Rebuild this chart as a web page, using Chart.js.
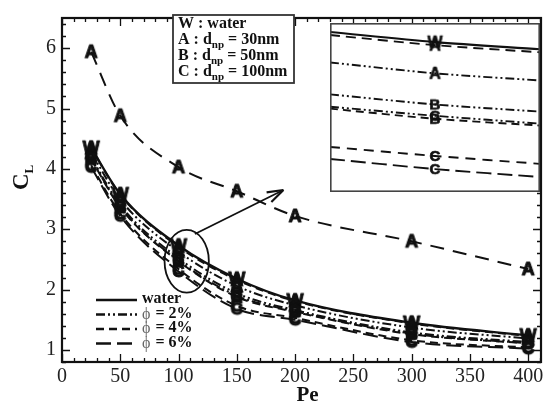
<!DOCTYPE html>
<html><head><meta charset="utf-8">
<script src="https://cdn.jsdelivr.net/npm/chart.js@4/dist/chart.umd.min.js"></script>
<style>
html,body{margin:0;padding:0;background:#fff;}
#wrap{position:relative;width:550px;height:405px;overflow:hidden;}
#main{position:absolute;left:0;top:0;}
#inset{position:absolute;left:330px;top:23px;}
</style></head><body>
<div id="wrap"><canvas id="main" width="550" height="405"></canvas><canvas id="inset" width="210" height="169"></canvas></div>
<script>
// ---- data ----
const pe = [25, 50, 100, 150, 200, 300, 400];
const xTickValues = [0, 50, 100, 150, 200, 250, 300, 350, 400];
const yTickValues = [1, 2, 3, 4, 5, 6];
const topA6 = [5.94, 4.88, 4.03, 3.63, 3.22, 2.80, 2.34];
const water = [4.35, 3.58, 2.73, 2.18, 1.82, 1.45, 1.24];
const A4 = [4.34, 3.57, 2.71, 2.16, 1.81, 1.44, 1.23];
const A2 = [4.27, 3.49, 2.63, 2.06, 1.74, 1.37, 1.19];
const B2 = [4.19, 3.40, 2.52, 1.94, 1.66, 1.29, 1.13];
const C2 = [4.17, 3.37, 2.48, 1.90, 1.64, 1.27, 1.11];
const B4 = [4.16, 3.36, 2.47, 1.88, 1.63, 1.26, 1.11];
const C4 = [4.06, 3.26, 2.34, 1.73, 1.53, 1.16, 1.04];
const C6 = [4.03, 3.22, 2.30, 1.68, 1.50, 1.13, 1.02];
// inset (zoomed view) values at left, middle, right
const insetX = [0, 1, 2];
const inW = [2.726, 2.699, 2.680];
const inA4 = [2.718, 2.691, 2.672];
const inA2 = [2.645, 2.616, 2.597];
const inB2 = [2.560, 2.533, 2.514];
const inC2 = [2.527, 2.503, 2.482];
const inB4 = [2.522, 2.495, 2.477];
const inC4 = [2.420, 2.396, 2.375];
const inC6 = [2.388, 2.361, 2.340];
const boxLegend = [['W', ' : water', null, ''], ['A', ' : d', 'np', ' = 30nm'], ['B', ' : d', 'np', ' = 50nm'], ['C', ' : d', 'np', ' = 100nm']];
const styleLegend = ['water', '= 2%', '= 4%', '= 6%'];

const INK = '#111';
const SERIF = '"Liberation Serif","Times New Roman",serif';
const DASH = { solid: [], ddot: [9, 3, 2, 3, 2, 3], short: [8, 5], long: [15, 6], longA: [14, 9] };

function letter(ch, px, sw) {
  const c = document.createElement('canvas');
  const s = Math.ceil(px * 1.3);
  c.width = s; c.height = s;
  const g = c.getContext('2d');
  g.fillStyle = INK; g.strokeStyle = INK; g.lineWidth = sw; g.lineJoin = 'round';
  g.font = 'bold ' + px + 'px "Liberation Sans", Arial, sans-serif';
  g.textAlign = 'center'; g.textBaseline = 'middle';
  g.fillText(ch, s / 2, s / 2 + 1);
  if (sw) g.strokeText(ch, s / 2, s / 2 + 1);
  return c;
}
const M = { W: letter('W', 18, 1), A: letter('A', 18, 1), B: letter('B', 17, 1), C: letter('C', 17, 1) };
const m = { W: letter('W', 16, 0.7), A: letter('A', 16, 0.7), B: letter('B', 15, 0.7), C: letter('C', 15, 0.7) };

function ds(data, dash, mark, w) {
  return {
    data: pe.map((x, i) => ({ x: x, y: data[i] })),
    borderColor: INK, backgroundColor: INK, borderWidth: w || 2,
    borderDash: dash, pointStyle: mark, pointRadius: 6,
    cubicInterpolationMode: 'monotone', fill: false
  };
}

const deco = {
  id: 'deco',
  afterDraw(chart) {
    const g = chart.ctx, a = chart.chartArea, xs = chart.scales.x, ys = chart.scales.y;
    g.save();
    g.strokeStyle = INK; g.fillStyle = INK;
    // ticks (inward)
    g.lineWidth = 1.3;
    g.beginPath();
    for (let v = 0; v <= 410; v += 10) {
      const px = Math.round(xs.getPixelForValue(v)) + 0.5;
      const len = v % 50 === 0 ? 8 : 4;
      g.moveTo(px, a.bottom); g.lineTo(px, a.bottom - len);
      g.moveTo(px, a.top); g.lineTo(px, a.top + len);
    }
    for (let k = 4; k <= 32; k++) {
      const v = k / 5;
      const py = Math.round(ys.getPixelForValue(v)) + 0.5;
      const len = k % 5 === 0 ? 8 : 4;
      g.moveTo(a.left, py); g.lineTo(a.left + len, py);
      g.moveTo(a.right, py); g.lineTo(a.right - len, py);
    }
    g.stroke();
    // frame
    g.lineWidth = 2.2;
    g.strokeRect(a.left, a.top, a.right - a.left, a.bottom - a.top);
    // axis titles
    g.font = 'bold 21px ' + SERIF;
    g.textAlign = 'center'; g.textBaseline = 'alphabetic';
    g.fillText('Pe', (a.left + a.right) / 2 + 6, 401);
    g.save();
    g.translate(28, 190); g.rotate(-Math.PI / 2);
    g.textAlign = 'left';
    g.font = 'bold 23px ' + SERIF;
    g.fillText('C', 0, 0);
    const cw = g.measureText('C').width;
    g.font = 'bold 13px ' + SERIF;
    g.fillText('L', cw, 5);
    g.restore();
    // ellipse + arrow
    const cx = xs.getPixelForValue(107), cy = ys.getPixelForValue(2.47);
    const rx = xs.getPixelForValue(126) - cx, ry = cy - ys.getPixelForValue(2.99);
    g.lineWidth = 1.8;
    g.beginPath(); g.ellipse(cx, cy, rx, ry, 0, 0, Math.PI * 2); g.stroke();
    const x0 = xs.getPixelForValue(114), y0 = ys.getPixelForValue(2.92);
    const x1 = xs.getPixelForValue(190), y1 = ys.getPixelForValue(3.65);
    g.beginPath(); g.moveTo(x0, y0); g.lineTo(x1, y1); g.stroke();
    const ang = Math.atan2(y1 - y0, x1 - x0);
    g.beginPath();
    g.moveTo(x1, y1); g.lineTo(x1 - 17 * Math.cos(ang - 0.32), y1 - 17 * Math.sin(ang - 0.32));
    g.moveTo(x1, y1); g.lineTo(x1 - 17 * Math.cos(ang + 0.32), y1 - 17 * Math.sin(ang + 0.32));
    g.lineWidth = 2.2; g.stroke();
    // box legend
    g.lineWidth = 1.8; g.strokeStyle = '#333';
    g.fillStyle = '#fff';
    g.fillRect(173, 15, 121, 68); g.strokeRect(173, 15, 121, 68);
    g.fillStyle = INK; g.textAlign = 'left';
    boxLegend.forEach((row, i) => {
      const by = 28 + i * 16;
      let x = 178;
      g.font = 'bold 16px ' + SERIF;
      g.fillText(row[0] + row[1], x, by); x += g.measureText(row[0] + row[1]).width;
      if (row[2]) {
        g.font = 'bold 11px ' + SERIF;
        g.fillText(row[2], x, by + 4); x += g.measureText(row[2]).width;
        g.font = 'bold 16px ' + SERIF;
        g.fillText(row[3], x, by);
      }
    });
    // style legend
    const dashes = [DASH.solid, DASH.ddot, DASH.short, DASH.long];
    styleLegend.forEach((t, i) => {
      const ly = 300 + i * 14.5;
      g.strokeStyle = INK; g.lineWidth = i === 0 ? 2.6 : 2.3;
      g.setLineDash(dashes[i]);
      g.beginPath(); g.moveTo(96, ly); g.lineTo(137, ly); g.stroke();
      g.setLineDash([]);
      let x = 142;
      if (i > 0) {
        g.font = '16px ' + SERIF; g.fillStyle = '#666';
        g.fillText('ϕ', x, ly + 4); x += g.measureText('ϕ').width + 1;
      }
      g.font = 'bold 16px ' + SERIF; g.fillStyle = INK;
      g.fillText(i > 0 ? ' ' + t : t, x, ly + 3);
    });
    g.restore();
  }
};

new Chart(document.getElementById('main'), {
  type: 'line',
  data: {
    datasets: [
      ds(topA6, DASH.longA, M.A, 2),
      ds(C6, DASH.long, M.C, 2),
      ds(C4, DASH.short, M.C, 2),
      ds(B4, DASH.short, M.B, 2),
      ds(C2, DASH.ddot, M.C, 2),
      ds(B2, DASH.ddot, M.B, 2),
      ds(A2, DASH.ddot, M.A, 2),
      ds(A4, DASH.short, M.A, 2),
      ds(water, DASH.solid, M.W, 2.4)
    ]
  },
  options: {
    responsive: false, animation: false, devicePixelRatio: 1,
    layout: { padding: { left: 0, right: 9, top: 9, bottom: 0 } },
    plugins: { legend: { display: false }, tooltip: { enabled: false } },
    scales: {
      x: {
        type: 'linear', min: 0, max: 411,
        grid: { display: false, drawTicks: false }, border: { display: false },
        afterBuildTicks: s => { s.ticks = xTickValues.map(v => ({ value: v })); },
        afterFit: s => { s.height = 43; },
        ticks: { color: '#222', font: { family: SERIF, size: 20 }, padding: 3, maxRotation: 0, autoSkip: false }
      },
      y: {
        type: 'linear', min: 0.8, max: 6.5,
        grid: { display: false, drawTicks: false }, border: { display: false },
        afterBuildTicks: s => { s.ticks = yTickValues.map(v => ({ value: v })); },
        afterFit: s => { s.width = 62; },
        ticks: { color: '#222', font: { family: SERIF, size: 20 }, padding: 6, autoSkip: false }
      }
    }
  },
  plugins: [deco]
});

function ids(data, dash, mark, w) {
  return {
    data: insetX.map((x, i) => ({ x: x, y: data[i] })),
    borderColor: INK, backgroundColor: INK, borderWidth: w || 1.9,
    borderDash: dash, pointStyle: mark, pointRadius: [0, 5, 0],
    tension: 0.3, fill: false
  };
}
const frame = {
  id: 'frame',
  beforeDraw(chart) { const g = chart.ctx; g.save(); g.fillStyle = '#fff'; g.fillRect(0, 0, chart.width, chart.height); g.restore(); },
  afterDraw(chart) {
    const g = chart.ctx; g.save(); g.strokeStyle = '#444'; g.lineWidth = 1.6;
    g.strokeRect(0.8, 0.8, chart.width - 1.6, chart.height - 1.6); g.restore();
  }
};
new Chart(document.getElementById('inset'), {
  type: 'line',
  data: {
    datasets: [
      ids(inC6, DASH.long, m.C),
      ids(inC4, [10, 7], m.C),
      ids(inB4, DASH.short, m.B),
      ids(inC2, DASH.ddot, m.C),
      ids(inB2, DASH.ddot, m.B),
      ids(inA2, DASH.ddot, m.A),
      ids(inA4, [10, 6], m.A),
      ids(inW, DASH.solid, m.W, 2.1)
    ]
  },
  options: {
    responsive: false, animation: false, devicePixelRatio: 1,
    layout: { padding: 0 },
    plugins: { legend: { display: false }, tooltip: { enabled: false } },
    scales: {
      x: { type: 'linear', min: 0, max: 2, display: false },
      y: { type: 'linear', min: 2.30, max: 2.75, display: false }
    }
  },
  plugins: [frame]
});
</script>
</body></html>
